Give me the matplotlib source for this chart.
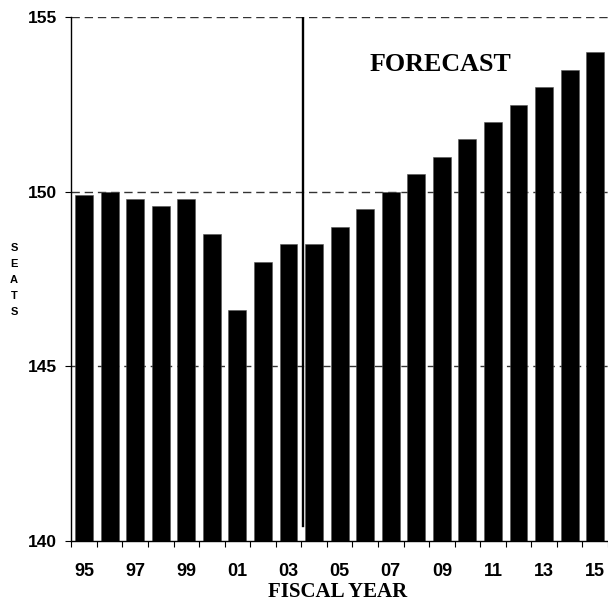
import matplotlib.pyplot as plt
import numpy as np

years = ['95', '96', '97', '98', '99', '00', '01', '02', '03', '04', '05',
         '06', '07', '08', '09', '10', '11', '12', '13', '14', '15']
seats = [149.9, 150.0, 149.8, 149.6, 149.8, 148.8, 146.6, 148.0, 148.5, 148.5, 149.0,
         149.5, 150.0, 150.5, 151.0, 151.5, 152.0, 152.5, 153.0, 153.5, 154.0]
yticks = [140, 145, 150, 155]

fig = plt.figure(figsize=(6.08, 6.07), dpi=100)
ax = fig.add_axes([0.1173, 0.1092, 0.8827, 0.8623])

x = np.arange(len(years))
ax.set_axisbelow(True)
for yv in yticks[1:]:
    ax.axhline(yv, color='#333333', lw=1.0, dashes=(6, 3.5), zorder=0)
ax.bar(x, [s - 140 for s in seats], bottom=140, width=0.7, color='black',
       edgecolor='#555555', linewidth=0.4, zorder=2)

# forecast divider
ax.plot([8.57, 8.57], [140.43, 155], color='black', lw=1.7, zorder=3)
ax.text(13.95, 153.65, 'FORECAST', ha='center', va='center', fontsize=18.7,
        fontweight='bold', family='Liberation Serif')

ax.set_xlim(-0.5, len(years) - 0.5)
ax.set_ylim(140, 155)
ax.set_yticks(yticks)
ax.set_yticklabels([str(v) for v in yticks], fontsize=12.5, fontweight='bold',
                   family='Liberation Sans')
ax.set_xticks(x[::2])
ax.set_xticklabels(years[::2], fontsize=13, fontweight='bold', family='Liberation Sans')
ax.set_xticks(np.arange(-0.5, len(years)), minor=True)
ax.tick_params(axis='x', which='major', length=0, pad=16)
ax.tick_params(axis='x', which='minor', length=4.3, width=0.8, direction='out')
ax.tick_params(axis='y', length=4.3, width=0.8, direction='out', pad=6)

for s in ['top', 'right']:
    ax.spines[s].set_visible(False)
ax.spines['left'].set_linewidth(1.0)
ax.spines['bottom'].set_linewidth(1.0)

fig.text(0.023, 0.5387, 'S\nE\nA\nT\nS', ha='center', va='center', fontsize=8,
         fontweight='bold', family='Liberation Sans', linespacing=1.75)
fig.text(0.556, 0.0245, 'FISCAL YEAR', ha='center', va='center', fontsize=15,
         fontweight='bold', family='Liberation Serif')

fig.savefig('out.png', dpi=100)
